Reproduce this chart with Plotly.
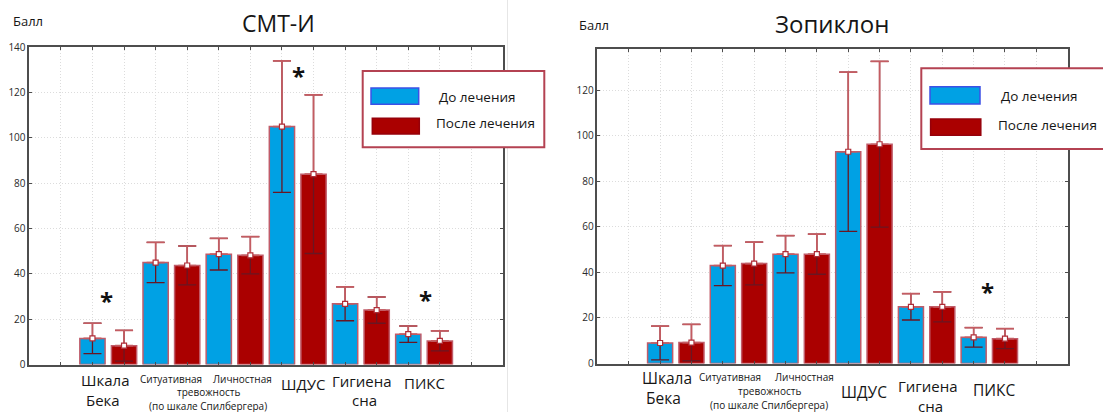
import plotly.graph_objects as go

# ---- data -------------------------------------------------------------
groups = ["Шкала Бека", "Ситуативная тревожность", "Личностная тревожность",
          "ШДУС", "Гигиена сна", "ПИКС"]

smt_before = [11.5, 45.0, 48.7, 105.0, 26.8, 13.4]
smt_before_err = [6.7, 8.9, 7.0, 29.0, 7.5, 3.6]
smt_after = [8.3, 43.7, 48.2, 84.0, 24.0, 10.4]
smt_after_err = [6.8, 8.6, 8.2, 35.0, 5.8, 4.4]

zop_before = [9.0, 43.0, 48.0, 93.0, 24.9, 11.5]
zop_before_err = [7.4, 8.8, 8.2, 35.0, 5.8, 4.3]
zop_after = [9.2, 43.9, 48.0, 96.3, 24.9, 10.9]
zop_after_err = [8.0, 9.4, 8.8, 36.4, 6.6, 4.4]

y_ticks_smt = [0, 20, 40, 60, 80, 100, 120, 140]
y_ticks_zop = [0, 20, 40, 60, 80, 100, 120]

# ---- styling ----------------------------------------------------------
W, H = 1103, 412
BLUE = "rgb(0,161,228)"
RED = "rgb(170,0,0)"
BAR_EDGE = "rgb(192,92,106)"
WHISK_LIGHT = "rgb(196,92,98)"
WHISK_DARK = "rgb(105,22,34)"
FRAME = "#4d4d4d"
GRID = "#dcdcdc"
FONT = "Open Sans"
INK = "#161616"


def px(x):
    return x / W


def py(y):
    return 1 - y / H


fig = go.Figure()


def add_panel(before, before_err, after, after_err, xa, ya):
    n = len(before)
    xb = [2 * i for i in range(n)]
    xr = [2 * i + 1 for i in range(n)]
    for xs, ys, col in ((xb, before, BLUE), (xr, after, RED)):
        fig.add_trace(go.Bar(
            x=xs, y=ys, width=0.8, xaxis=xa, yaxis=ya, showlegend=False,
            marker=dict(color=col, line=dict(color=BAR_EDGE, width=1.5)),
        ))
    for xs, ys, es in ((xb, before, before_err), (xr, after, after_err)):
        # full whisker in the dark tone
        fig.add_trace(go.Scatter(
            x=xs, y=ys, mode="markers", xaxis=xa, yaxis=ya, showlegend=False,
            marker=dict(size=1, color="rgba(0,0,0,0)"),
            error_y=dict(type="data", array=es, color=WHISK_DARK,
                         thickness=1.3, width=9),
        ))
        # upper half over white in the light tone
        fig.add_trace(go.Scatter(
            x=xs, y=ys, mode="markers", xaxis=xa, yaxis=ya, showlegend=False,
            marker=dict(size=1, color="rgba(0,0,0,0)"),
            error_y=dict(type="data", symmetric=False, array=es,
                         arrayminus=[0] * len(es), color=WHISK_LIGHT,
                         thickness=1.7, width=9),
        ))
        # mean markers
        fig.add_trace(go.Scatter(
            x=xs, y=ys, mode="markers", xaxis=xa, yaxis=ya, showlegend=False,
            marker=dict(symbol="square", size=5, color="white",
                        line=dict(color="rgb(175,45,55)", width=1.2)),
        ))


add_panel(smt_before, smt_before_err, smt_after, smt_after_err, "x", "y")
add_panel(zop_before, zop_before_err, zop_after, zop_after_err, "x2", "y2")

xaxis_common = dict(
    range=[-2, 13], tickvals=list(range(-1, 13)), showticklabels=False,
    showgrid=True, gridcolor=GRID, griddash="1px,2px", gridwidth=1,
    ticks="inside", ticklen=3, tickcolor=FRAME,
    showline=True, linecolor=FRAME, linewidth=1.5, mirror="allticks",
    zeroline=False, fixedrange=True,
)
yaxis_common = dict(
    showgrid=True, gridcolor=GRID, griddash="1px,2px", gridwidth=1,
    ticks="inside", ticklen=3, tickcolor=FRAME,
    showline=True, linecolor=FRAME, linewidth=1.5, mirror="allticks",
    zeroline=False, tickfont=dict(family=FONT, size=10, color="#2a2a2a"),
    automargin=False,
)

fig.update_layout(
    width=W, height=H,
    margin=dict(l=0, r=0, t=0, b=0),
    paper_bgcolor="white", plot_bgcolor="white",
    barmode="overlay",
    xaxis=dict(domain=[px(29.3), px(503)], anchor="y", **xaxis_common),
    yaxis=dict(domain=[py(364.5), py(47.3)], anchor="x", range=[0, 140],
               tickvals=y_ticks_smt, **yaxis_common),
    xaxis2=dict(domain=[px(597.4), px(1067.7)], anchor="y2", **xaxis_common),
    yaxis2=dict(domain=[py(363.5), py(49.3)], anchor="x2", range=[0, 138],
                tickvals=y_ticks_zop, **yaxis_common),
)

ann = []


def text(x, y, s, size, xref="paper", yref="paper", xanchor="center",
         yanchor="middle", bold=False, color=INK):
    ann.append(dict(x=x, y=y, xref=xref, yref=yref, text=s, showarrow=False,
                    xanchor=xanchor, yanchor=yanchor,
                    font=dict(family=FONT, size=size, color=color,
                              weight="bold" if bold else "normal")))


# titles and unit labels
text(px(278), py(22.7), "СМТ-И", 23)
text(px(832), py(24), "Зопиклон", 24)
text(px(10.7), py(21), "Балл", 13, xanchor="left")
text(px(576.6), py(25), "Балл", 13, xanchor="left")

# category labels under the bars: (slot, pixel y, text, size)
cat_labels = [
    [(0.41, 380, "Шкала", 15), (0.32, 400, "Бека", 15),
     (2.50, 379, "Ситуативная", 10), (4.74, 379, "Личностная", 10),
     (3.69, 392, "тревожность", 10), (3.67, 405.7, "(по шкале Спилбергера)", 10),
     (6.67, 384, "ШДУС", 15), (8.55, 381, "Гигиена", 15), (8.61, 400, "сна", 15),
     (10.51, 383, "ПИКС", 15)],
    [(0.21, 378, "Шкала", 15.5), (0.1, 398, "Бека", 15.5),
     (2.24, 377, "Ситуативная", 10), (4.6, 377, "Личностная", 10),
     (3.48, 391, "тревожность", 10), (3.48, 405, "(по шкале Спилбергера)", 10),
     (6.49, 392, "ШДУС", 15.5), (8.56, 386, "Гигиена", 15), (8.62, 405.5, "сна", 15),
     (10.68, 390, "ПИКС", 15.5)],
]
for xr, items in zip(("x", "x2"), cat_labels):
    for slot, ypx, s, size in items:
        text(slot, py(ypx), s, size, xref=xr)

# significance marks
for xr, yr, slot, val in (("x", "y", 0.43, 28.2), ("x", "y", 6.54, 127.5),
                          ("x", "y", 10.53, 28.7), ("x2", "y2", 10.44, 31.8)):
    text(slot, val, "*", 24, xref=xr, yref=yr, bold=True, color="#111")

# legends
shapes = [dict(type="line", xref="paper", yref="paper", x0=px(507.5), x1=px(507.5),
               y0=0, y1=1, line=dict(color="#e6e6e6", width=1), layer="above")]


def legend(box, sw_blue, sw_red, t1, t2):
    shapes.append(dict(type="rect", xref="paper", yref="paper",
                       x0=px(box[0]), x1=px(box[1]), y0=py(box[3]), y1=py(box[2]),
                       fillcolor="white", line=dict(color="rgb(180,66,82)", width=2),
                       layer="above"))
    shapes.append(dict(type="rect", xref="paper", yref="paper",
                       x0=px(sw_blue[0]), x1=px(sw_blue[1]),
                       y0=py(sw_blue[3]), y1=py(sw_blue[2]), fillcolor=BLUE,
                       line=dict(color="rgb(60,80,230)", width=1.5), layer="above"))
    shapes.append(dict(type="rect", xref="paper", yref="paper",
                       x0=px(sw_red[0]), x1=px(sw_red[1]),
                       y0=py(sw_red[3]), y1=py(sw_red[2]), fillcolor=RED,
                       line=dict(color="rgb(150,0,10)", width=1.5), layer="above"))
    text(px(t1[0]), py(t1[1]), "До лечения", 13.5, xanchor="left")
    text(px(t2[0]), py(t2[1]), "После лечения", 13.5, xanchor="left")


legend((362.7, 544.3, 71, 147.3), (371, 418.7, 88, 104.3), (372.3, 419.3, 118.3, 134),
       (436.7, 96.7), (434, 123.3))
legend((921.3, 1115, 68.3, 149), (930, 980, 86.7, 104), (930.6, 980.8, 119, 135.3),
       (999, 96), (996.4, 125.3))

fig.update_layout(annotations=ann, shapes=shapes)
fig.write_html("out.html")
